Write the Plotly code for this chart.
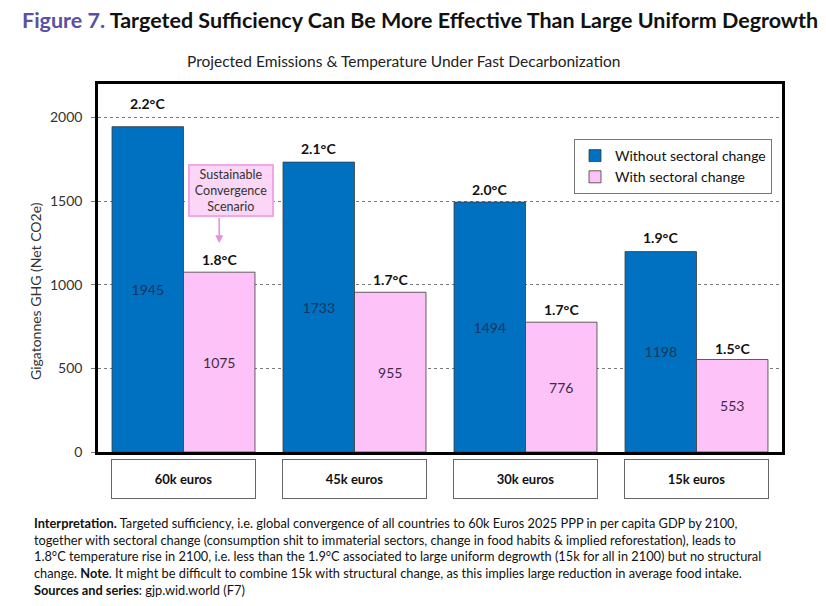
import plotly.graph_objects as go

categories = ["60k euros", "45k euros", "30k euros", "15k euros"]
without_change = [1945, 1733, 1494, 1198]
with_change = [1075, 955, 776, 553]
temp_without = ["2.2°C", "2.1°C", "2.0°C", "1.9°C"]
temp_with = ["1.8°C", "1.7°C", "1.7°C", "1.5°C"]
y_ticks = [0, 500, 1000, 1500, 2000]

BLUE = "#0070C0"
PINK = "#FDC3F8"
FONT = "Lato"

# page body has an 8px margin; work in reference pixel coords and shift
OFF = 8
W, H = 826 - 2 * OFF, 606 - 2 * OFF
L, R, T, B = 98 - OFF, 782 - OFF, 84 - OFF, 452 - OFF


def px(xp):
    return (xp - OFF - L) / (R - L)


def py(yp):
    return (B - (yp - OFF)) / (B - T)


fig = go.Figure()
fig.add_trace(go.Bar(
    x=categories, y=without_change, name="Without sectoral change",
    marker=dict(color=BLUE, line=dict(color="#3a3a3a", width=0.8)),
    text=[str(v) for v in without_change], textposition="inside",
    insidetextanchor="middle", textangle=0,
    textfont=dict(family=FONT, size=14, color="#16365C"),
))
fig.add_trace(go.Bar(
    x=categories, y=with_change, name="With sectoral change",
    marker=dict(color=PINK, line=dict(color="#3a3a3a", width=0.8)),
    text=[str(v) for v in with_change], textposition="inside",
    insidetextanchor="middle", textangle=0,
    textfont=dict(family=FONT, size=14, color="#3f2a45"),
))

bargap = 0.164
half = (1 - bargap) / 4  # offset of each bar centre from category centre

temp_shift_without = [23, 14, 13, 14]
temp_shift_with = [13, 13, 13, 11]
for i, cat in enumerate(categories):
    fig.add_annotation(
        x=i - half, y=without_change[i], xref="x", yref="y",
        text="<b>%s</b>" % temp_without[i], showarrow=False,
        yanchor="middle", yshift=temp_shift_without[i],
        bgcolor="white", borderpad=1,
        font=dict(family=FONT, size=14, color="#111"),
    )
    fig.add_annotation(
        x=i + half, y=with_change[i], xref="x", yref="y",
        text="<b>%s</b>" % temp_with[i], showarrow=False,
        yanchor="middle", yshift=temp_shift_with[i],
        bgcolor="white", borderpad=1,
        font=dict(family=FONT, size=14, color="#111"),
    )
    fig.add_annotation(
        x=i, y=py(479), xref="x", yref="paper",
        xanchor="center", yanchor="middle",
        text="<b>%s</b>" % cat, showarrow=False,
        width=141, height=36, bgcolor="white",
        bordercolor="#666", borderwidth=1, borderpad=1,
        font=dict(family=FONT, size=13, color="#111"),
    )

# Sustainable Convergence Scenario callout
fig.add_annotation(
    x=half, y=with_change[0], xref="x", yref="y",
    yshift=29, ax=0, ay=-27, text="", showarrow=True,
    arrowhead=2, arrowsize=1, arrowwidth=1.6, arrowcolor="#E88FE0",
)
fig.add_annotation(
    x=half + 0.07, y=with_change[0], xref="x", yref="y", yshift=82,
    text="Sustainable<br>Convergence<br>Scenario", showarrow=False,
    width=82, height=49, bgcolor="#FBD6F6", bordercolor="#F2A6EA",
    borderwidth=2, borderpad=0,
    font=dict(family=FONT, size=12.5, color="#333"),
)

fig.add_annotation(
    x=px(20), y=py(20), xref="paper", yref="paper", showarrow=False,
    xanchor="left", yanchor="middle",
    text="<b><span style='color:#5E4FA2'>Figure 7.</span> Targeted Sufficiency Can Be More Effective Than Large Uniform Degrowth</b>",
    font=dict(family=FONT, size=21.5, color="#111"),
)
fig.add_annotation(
    x=px(403), y=py(61), xref="paper", yref="paper", showarrow=False,
    text="Projected Emissions & Temperature Under Fast Decarbonization",
    font=dict(family=FONT, size=15.5, color="#222"), xanchor="center", yanchor="middle",
)
fig.add_annotation(
    x=px(35), y=py(291), xref="paper", yref="paper", showarrow=False,
    text="Gigatonnes GHG (Net CO2e)", textangle=-90,
    font=dict(family=FONT, size=14, color="#333"), xanchor="center", yanchor="middle",
)
fig.add_annotation(
    x=px(32), y=py(513), xref="paper", yref="paper", showarrow=False,
    xanchor="left", yanchor="top", align="left",
    text=("<b>Interpretation.</b> Targeted sufficiency, i.e. global convergence of all countries to 60k Euros 2025 PPP in per capita GDP by 2100,<br>"
          "together with sectoral change (consumption shit to immaterial sectors, change in food habits &amp; implied reforestation), leads to<br>"
          "1.8°C temperature rise in 2100, i.e. less than the 1.9°C associated to large uniform degrowth (15k for all in 2100) but no structural<br>"
          "change. <b>Note</b>. It might be difficult to combine 15k with structural change, as this implies large reduction in average food intake.<br>"
          "<b>Sources and series</b>: gjp.wid.world (F7)"),
    font=dict(family=FONT, size=12.8, color="#111"),
)

fig.update_layout(
    width=W, height=H,
    margin=dict(l=L, r=W - R, t=T, b=H - B, pad=0),
    paper_bgcolor="white", plot_bgcolor="white",
    barmode="group", bargap=bargap, bargroupgap=0,
    font=dict(family=FONT, size=14, color="#333"),
    showlegend=True,
    legend=dict(
        x=px(574), y=py(139), xanchor="left", yanchor="top",
        bgcolor="white", bordercolor="#777", borderwidth=1,
        font=dict(family=FONT, size=14, color="#111"),
        itemwidth=30, tracegroupgap=2,
    ),
    xaxis=dict(showticklabels=False, showgrid=False, ticks="",
               showline=True, linecolor="black", linewidth=2.5, mirror=True),
    yaxis=dict(range=[0, 2200], tickvals=y_ticks, showgrid=True,
               gridcolor="#7a7a7a", griddash="dot", gridwidth=1,
               ticks="outside", ticklen=4, tickcolor="#7a7a7a",
               showline=True, linecolor="black", linewidth=2.5, mirror=True,
               zeroline=False, ticklabelstandoff=6,
               tickfont=dict(family=FONT, size=14, color="#333")),
)

fig.write_html("out.html")
